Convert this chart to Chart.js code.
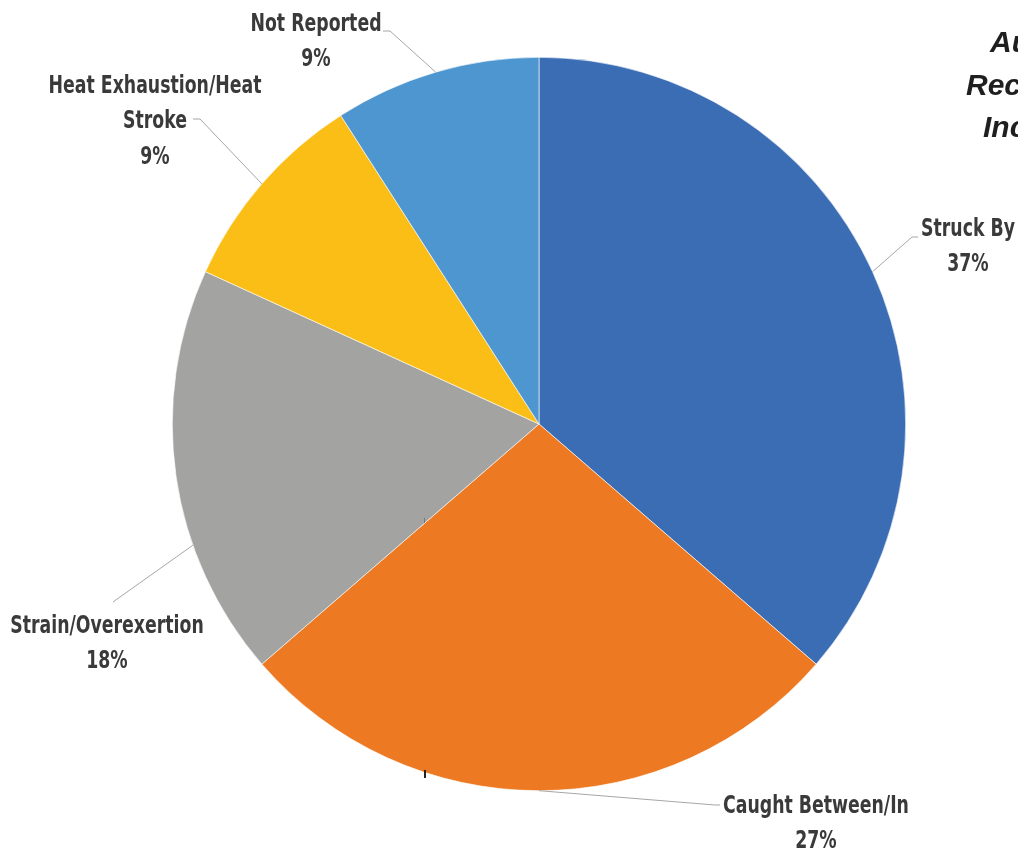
<!DOCTYPE html>
<html>
<head>
<meta charset="utf-8">
<script src="https://cdn.jsdelivr.net/npm/chart.js@4.4.0/dist/chart.umd.min.js"></script>
<style>
  html, body { margin: 0; padding: 0; background: #fff; overflow: hidden; }
  canvas { display: block; }
</style>
</head>
<body>
<canvas id="pieChart" width="1018" height="852"></canvas>
<script>
// Chart data
const categories = ['Struck By', 'Caught Between/In', 'Strain/Overexertion', 'Heat Exhaustion/Heat Stroke', 'Not Reported'];
const incidentCounts = [4, 3, 2, 1, 1];
const percentLabels = ['37%', '27%', '18%', '9%', '9%'];
const sliceColors = ['#3b6db5', '#ed7a22', '#a3a3a2', '#fbbe16', '#4d96d0'];
const titleLines = ['Au', 'Rec', 'Inc'];

// label text lines and where they sit relative to the pie centre (layout only)
const labelLines = [['Struck By'], ['Caught Between/In'], ['Strain/Overexertion'], ['Heat Exhaustion/Heat', 'Stroke'], ['Not Reported']];
const labelLayout = [
    { x: 429, y: -197, elbow: [373, -187], end: [379, -187], edgeAngle: null },
    { x: 277, y: 380, elbow: [176, 381], end: [181, 381], edgeAngle: null },
    { x: -432, y: 200, elbow: [-426, 178], end: null, edgeAngle: 250.7 },
    { x: -384, y: -340, elbow: [-339, -305], end: [-346, -305], edgeAngle: null },
    { x: -223, y: -402, elbow: [-149, -393], end: [-156, -393], edgeAngle: null }
];

const FONT = '"DejaVu Sans Condensed", "DejaVu Sans", sans-serif';
const SQUEEZE = 0.77; // narrow the text to look like a condensed face

const outsideLabels = {
    id: 'outsideLabels',
    afterDraw(chart) {
        const ctx = chart.ctx;
        const meta = chart.getDatasetMeta(0);
        ctx.save();
        meta.data.forEach((arc, i) => {
            const cx = arc.x, cy = arc.y, r = arc.outerRadius;
            const lay = labelLayout[i];
            let ang = (arc.startAngle + arc.endAngle) / 2;
            if (lay.edgeAngle !== null) ang = (lay.edgeAngle - 90) * Math.PI / 180;
            // leader line
            ctx.strokeStyle = '#a6a6a6';
            ctx.lineWidth = 1;
            ctx.beginPath();
            ctx.moveTo(cx + Math.cos(ang) * r, cy + Math.sin(ang) * r);
            ctx.lineTo(cx + lay.elbow[0], cy + lay.elbow[1]);
            if (lay.end) ctx.lineTo(cx + lay.end[0], cy + lay.end[1]);
            ctx.stroke();
            // text
            ctx.fillStyle = '#3a3a3a';
            ctx.font = 'bold 25px ' + FONT;
            ctx.textAlign = 'center';
            ctx.textBaseline = 'middle';
            const lines = labelLines[i].concat([percentLabels[i]]);
            lines.forEach((t, k) => {
                ctx.save();
                ctx.translate(cx + lay.x, cy + lay.y + 2 + k * 35.5);
                ctx.scale(SQUEEZE, 1);
                ctx.fillText(t, 0, 0);
                ctx.restore();
            });
        });
        // stray ticks on/under the pie
        const a0 = meta.data[0];
        ctx.strokeStyle = '#222';
        ctx.lineWidth = 2;
        ctx.beginPath();
        ctx.moveTo(a0.x - 114, a0.y + 346);
        ctx.lineTo(a0.x - 114, a0.y + 354);
        ctx.stroke();
        ctx.strokeStyle = '#777';
        ctx.lineWidth = 1;
        ctx.beginPath();
        ctx.moveTo(a0.x - 114.5, a0.y + 94);
        ctx.lineTo(a0.x - 114.5, a0.y + 99);
        ctx.stroke();
        // title (clipped at the right edge)
        ctx.fillStyle = '#1f1f1f';
        ctx.font = 'italic bold 30px "Liberation Sans", Arial, sans-serif';
        ctx.textAlign = 'left';
        ctx.textBaseline = 'alphabetic';
        const tx = [990, 966, 983];
        const ty = [52, 95, 137];
        titleLines.forEach((t, k) => ctx.fillText(t, tx[k], ty[k]));
        ctx.restore();
    }
};

const ctx = document.getElementById('pieChart').getContext('2d');
const pieChart = new Chart(ctx, {
    type: 'pie',
    data: {
        labels: categories,
        datasets: [{
            data: incidentCounts,
            backgroundColor: sliceColors,
            borderColor: '#ffffff',
            borderWidth: 0.6
        }]
    },
    options: {
        responsive: false,
        animation: false,
        layout: {
            padding: { left: 172, right: 112, top: 57, bottom: 61 }
        },
        plugins: {
            legend: { display: false },
            tooltip: { enabled: false }
        }
    },
    plugins: [outsideLabels]
});
</script>
</body>
</html>
